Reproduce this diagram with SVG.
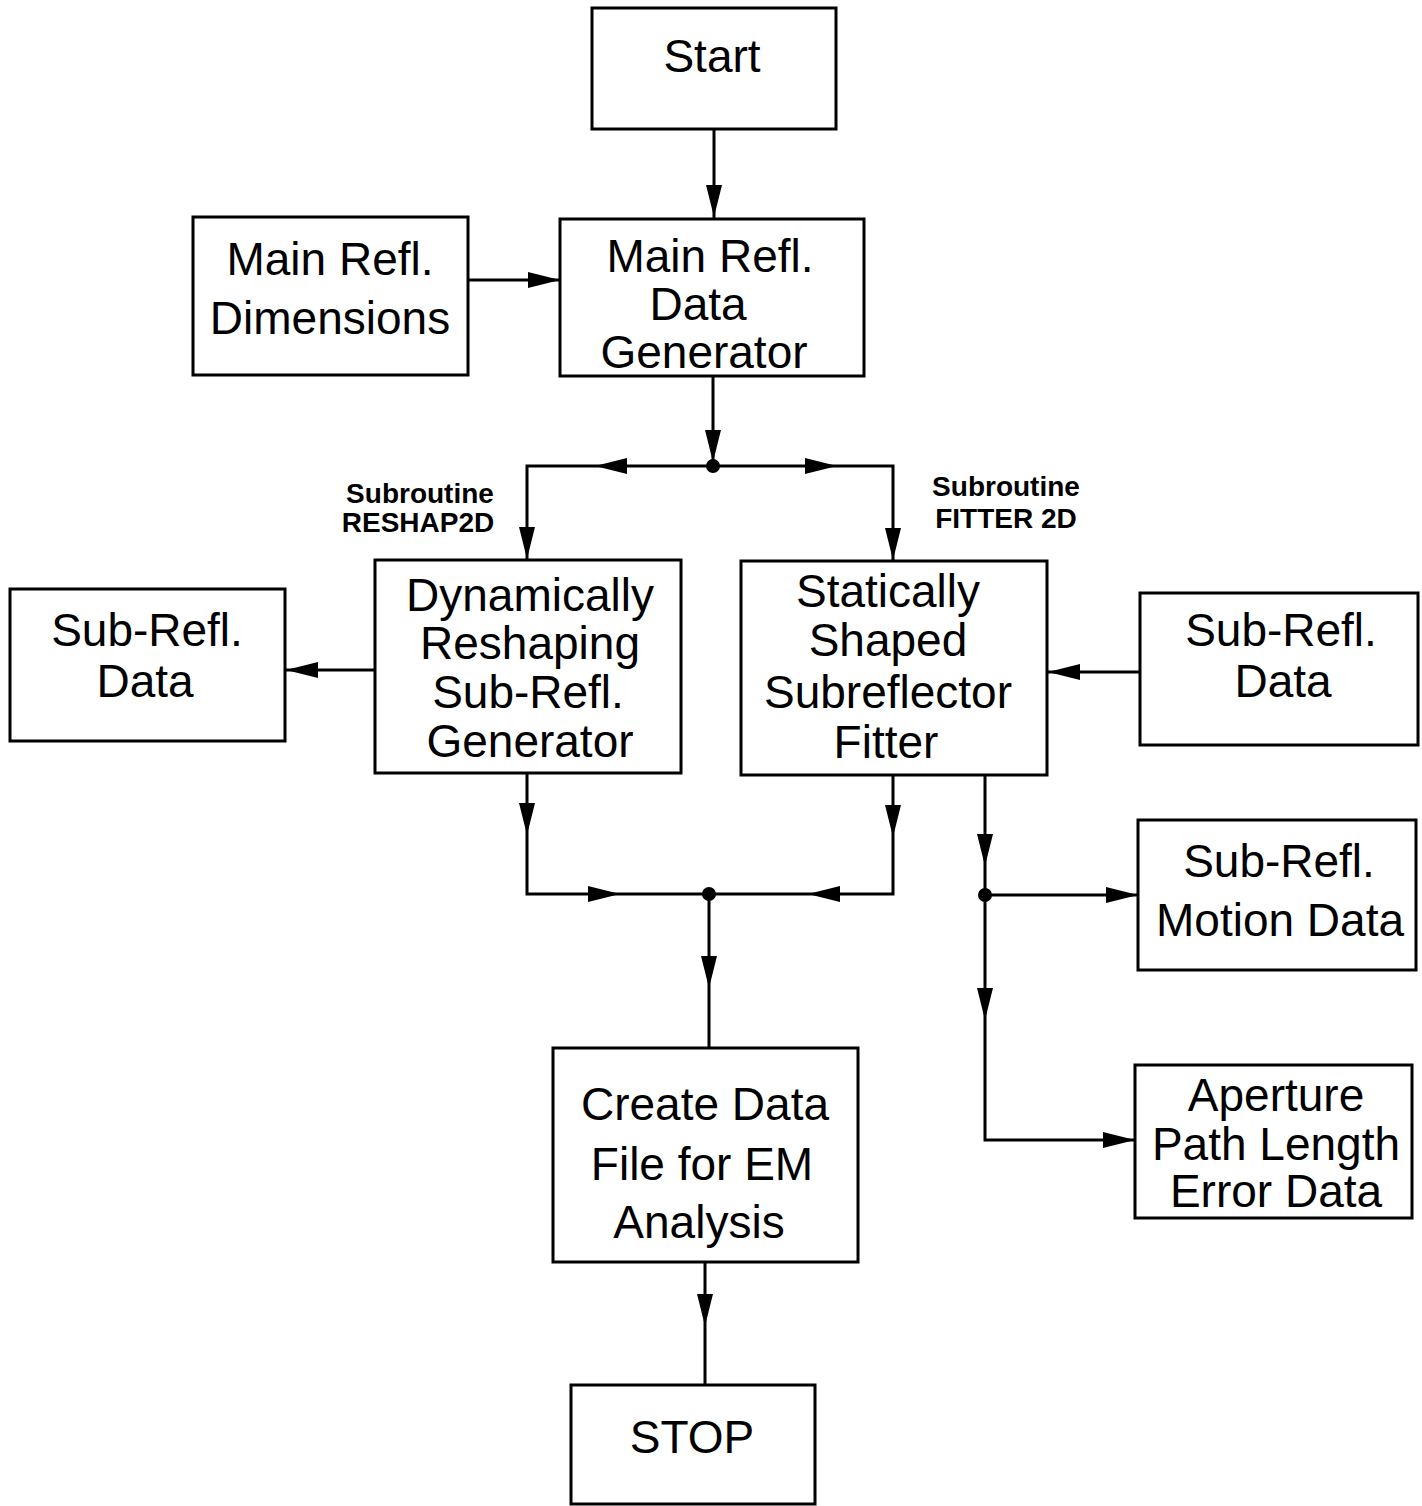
<svg xmlns="http://www.w3.org/2000/svg" xmlns:xlink="http://www.w3.org/1999/xlink" width="1422" height="1506" viewBox="0 0 1422 1506">
<style>
.box{fill:#fff;stroke:#000;stroke-width:3}
.t{font-family:"Liberation Sans",Arial,sans-serif;font-size:46px;fill:#000;text-anchor:middle}
.s{font-family:"Liberation Sans",Arial,sans-serif;font-size:28px;font-weight:bold;fill:#000;text-anchor:middle}
.ln{fill:none;stroke:#000;stroke-width:3}
</style>
<defs>
<path id="ah" d="M0,0 L-32,-8 L-32,8 Z" fill="#000"/>
</defs>
<rect width="1422" height="1506" fill="#fff"/>
<g id="connectors">
<path class="ln" d="M714,129 V219"/>
<use xlink:href="#ah" transform="translate(714,217) rotate(90)"/>
<path class="ln" d="M468,280 H560"/>
<use xlink:href="#ah" transform="translate(560,280)"/>
<path class="ln" d="M713,376 V466"/>
<use xlink:href="#ah" transform="translate(713,462) rotate(90)"/>
<path class="ln" d="M527,560 V466 H893 V561"/>
<use xlink:href="#ah" transform="translate(595,466) rotate(180)"/>
<use xlink:href="#ah" transform="translate(837,466)"/>
<use xlink:href="#ah" transform="translate(527,559) rotate(90)"/>
<use xlink:href="#ah" transform="translate(893,560) rotate(90)"/>
<circle cx="713" cy="466" r="7"/>
<path class="ln" d="M375,670 H285"/>
<use xlink:href="#ah" transform="translate(286,670) rotate(180)"/>
<path class="ln" d="M1140,672 H1047"/>
<use xlink:href="#ah" transform="translate(1048,672) rotate(180)"/>
<path class="ln" d="M527,773 V894 H893 V775"/>
<use xlink:href="#ah" transform="translate(527,835) rotate(90)"/>
<use xlink:href="#ah" transform="translate(893,837) rotate(90)"/>
<use xlink:href="#ah" transform="translate(620,894)"/>
<use xlink:href="#ah" transform="translate(808,894) rotate(180)"/>
<circle cx="709" cy="894" r="7"/>
<path class="ln" d="M709,894 V1048"/>
<use xlink:href="#ah" transform="translate(709,988) rotate(90)"/>
<path class="ln" d="M985,775 V1140 H1135"/>
<path class="ln" d="M985,895 H1138"/>
<use xlink:href="#ah" transform="translate(985,866) rotate(90)"/>
<use xlink:href="#ah" transform="translate(1138,895)"/>
<use xlink:href="#ah" transform="translate(985,1020) rotate(90)"/>
<use xlink:href="#ah" transform="translate(1135,1140)"/>
<circle cx="985" cy="895" r="7"/>
<path class="ln" d="M705,1262 V1385"/>
<use xlink:href="#ah" transform="translate(705,1326) rotate(90)"/>
</g>
<g id="start"><rect class="box" x="592" y="8" width="244" height="121"/><text class="t" x="712" y="72">Start</text></g>
<g id="main-dims"><rect class="box" x="193" y="217" width="275" height="158"/><text class="t" x="330" y="275">Main Refl.</text><text class="t" x="330" y="334">Dimensions</text></g>
<g id="main-gen"><rect class="box" x="560" y="219" width="304" height="157"/><text class="t" x="710" y="272">Main Refl.</text><text class="t" x="698" y="320">Data</text><text class="t" x="704" y="368">Generator</text></g>
<g id="label-reshap"><text class="s" x="420" y="503">Subroutine</text><text class="s" x="418" y="532">RESHAP2D</text></g>
<g id="label-fitter"><text class="s" x="1006" y="496">Subroutine</text><text class="s" x="1006" y="528">FITTER 2D</text></g>
<g id="dyn"><rect class="box" x="375" y="560" width="306" height="213"/><text class="t" x="530" y="611">Dynamically</text><text class="t" x="530" y="659">Reshaping</text><text class="t" x="528" y="708">Sub-Refl.</text><text class="t" x="530" y="757">Generator</text></g>
<g id="stat"><rect class="box" x="741" y="561" width="306" height="214"/><text class="t" x="888" y="607">Statically</text><text class="t" x="888" y="656">Shaped</text><text class="t" x="888" y="708">Subreflector</text><text class="t" x="886" y="758">Fitter</text></g>
<g id="sub-left"><rect class="box" x="10" y="589" width="275" height="152"/><text class="t" x="147" y="646">Sub-Refl.</text><text class="t" x="145" y="697">Data</text></g>
<g id="sub-right"><rect class="box" x="1140" y="593" width="278" height="152"/><text class="t" x="1281" y="646">Sub-Refl.</text><text class="t" x="1283" y="697">Data</text></g>
<g id="motion"><rect class="box" x="1138" y="820" width="278" height="150"/><text class="t" x="1279" y="877">Sub-Refl.</text><text class="t" x="1280" y="936">Motion Data</text></g>
<g id="aperture"><rect class="box" x="1135" y="1065" width="277" height="153"/><text class="t" x="1276" y="1111">Aperture</text><text class="t" x="1276" y="1160">Path Length</text><text class="t" x="1276" y="1207">Error Data</text></g>
<g id="create"><rect class="box" x="553" y="1048" width="305" height="214"/><text class="t" x="705" y="1120">Create Data</text><text class="t" x="702" y="1180">File for EM</text><text class="t" x="699" y="1238">Analysis</text></g>
<g id="stop"><rect class="box" x="571" y="1385" width="244" height="119"/><text class="t" x="692" y="1453">STOP</text></g>
</svg>
